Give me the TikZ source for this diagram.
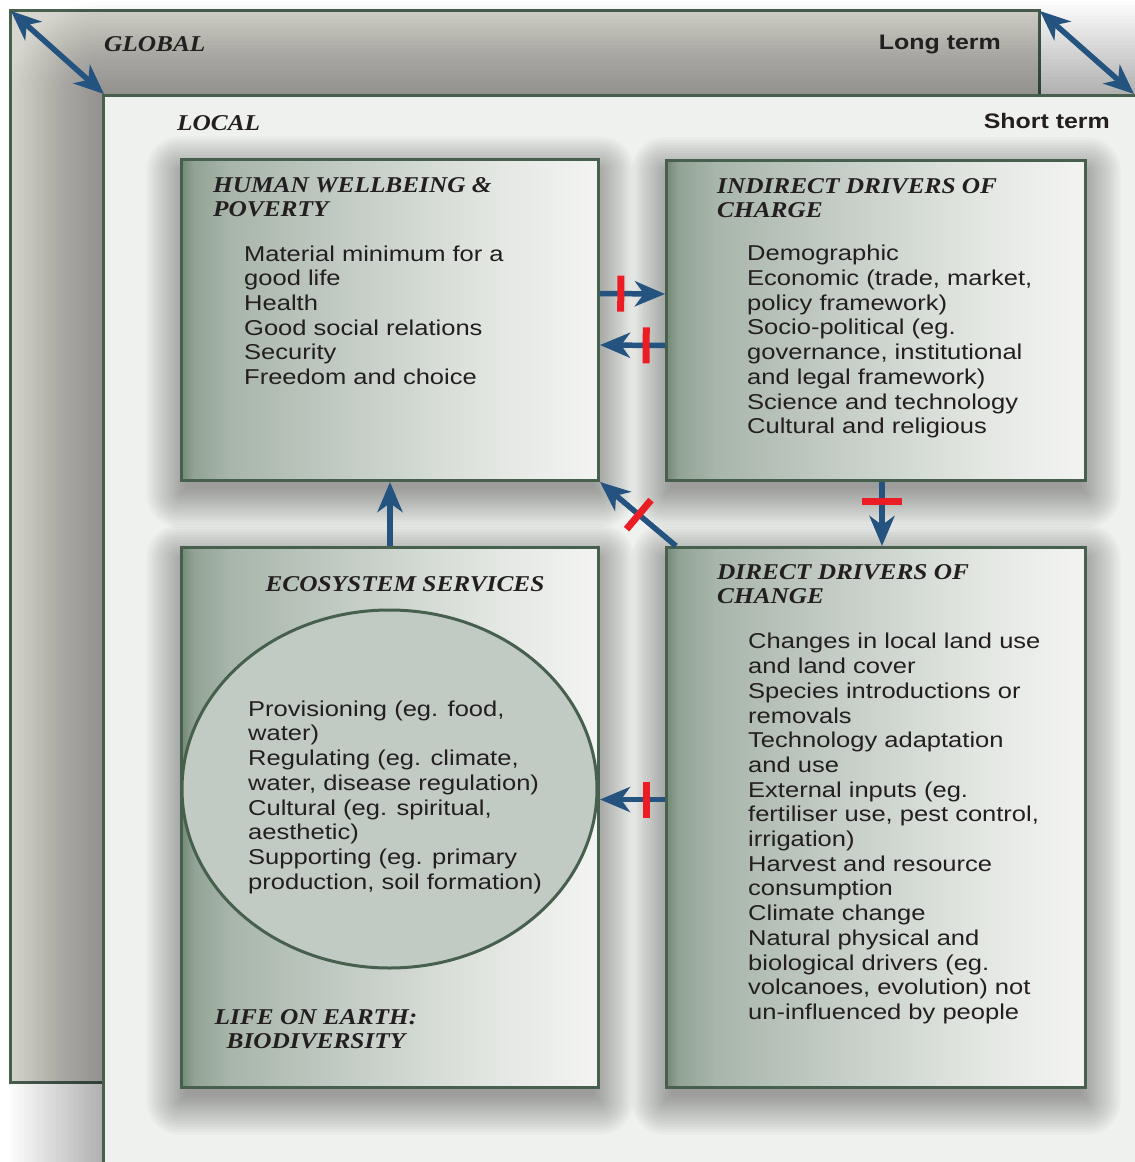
\documentclass[tikz,border=0pt]{standalone}
\usepackage{fontspec}
\setmainfont{Liberation Sans}[FakeStretch=1.187]
\newfontfamily\ttlfont{Liberation Serif}[FakeStretch=1.12]
\usetikzlibrary{arrows.meta,shapes.geometric,calc}
\definecolor{frame}{HTML}{47604E}
\definecolor{arrowblue}{HTML}{245380}
\definecolor{barred}{HTML}{EC1C24}
\definecolor{localbg}{HTML}{EFF1EE}
\definecolor{globalbg}{HTML}{D6D5CE}
\definecolor{ellfill}{HTML}{C1CAC3}
\definecolor{txt}{HTML}{231F20}
\definecolor{bx0}{HTML}{738978}
\definecolor{bx1}{HTML}{92A395}
\definecolor{bx2}{HTML}{A9B6AB}
\definecolor{bx3}{HTML}{C3CCC5}
\definecolor{bx4}{HTML}{E2E6E1}
\definecolor{bx5}{HTML}{F3F4F2}
\pgfdeclarehorizontalshading{boxshade}{100bp}{color(0bp)=(bx0); color(25bp)=(bx0); color(26.5bp)=(bx1); color(31bp)=(bx2); color(45bp)=(bx3); color(62bp)=(bx4); color(75bp)=(bx5); color(100bp)=(bx5)}
\pgfdeclarelayer{bg}
\pgfdeclarelayer{shadowlayer}
\pgfsetlayers{bg,shadowlayer,main}
\newcommand\mysoftshadow[6]{% #1 node, #2 layers, #3 step, #4 start, #5 opacity, #6 yoffset
  \foreach \k in {1,...,#2}{%
    \pgfmathsetmacro\dd{#4+\k*#3}%
    \pgfmathsetmacro\rr{max(\dd,0.1)}%
    \fill[black, fill opacity=#5, rounded corners=\rr pt] ($(#1.north west)+(-\dd,-\dd+#6)$) rectangle ($(#1.south east)+(\dd,\dd+#6)$);
  }}
\tikzset{
  boxn/.style={draw=frame, line width=3pt, shade, shading=boxshade, anchor=north west, inner sep=0pt},
  bodytext/.style={font=\fontsize{21.5pt}{24.7pt}\selectfont, align=left, inner sep=0pt, anchor=north west, text=txt},
  ttltext/.style={font=\ttlfont\bfseries\itshape\fontsize{22.6pt}{24pt}\selectfont, align=left, inner sep=0pt, anchor=north west, text=txt},
  termtext/.style={font=\bfseries\fontsize{21pt}{24pt}\selectfont, inner sep=0pt, anchor=base east, text=txt},
  flow/.style={draw=arrowblue, line width=5.5pt, -{Stealth[length=30pt, width=25pt, inset=9pt]}},
  twoway/.style={draw=arrowblue, line width=5.5pt, {Stealth[length=30pt, width=25pt, inset=9pt]}-{Stealth[length=30pt, width=25pt, inset=9pt]}},
  redbar/.style={fill=barred, draw=none, minimum width=7pt, minimum height=36pt, inner sep=0pt, sloped},
}
\begin{document}
\begin{tikzpicture}[x=1pt,y=-1pt]
\useasboundingbox (0,0) rectangle (1135,1162);
\begin{pgfonlayer}{bg}
\fill[white] (0,0) rectangle (1135,1162);
% global panel
\fill[globalbg] (10,10) rectangle (1039,1082);
\draw[frame, line width=3pt] (10,10) rectangle (1039,1082);
% local panel and its shadow
\path (103,95) coordinate (lp-north west) (1180,1200) coordinate (lp-south east);
\foreach \k in {1,...,26}{%
  \pgfmathsetmacro\dd{\k*3.6}%
  \fill[black, fill opacity=0.013, rounded corners=\dd pt] ($(lp-north west)+(-\dd,-\dd)$) rectangle ($(lp-south east)+(\dd,\dd)$);
}
\fill[localbg] (lp-north west) rectangle (lp-south east);
\draw[frame, line width=3pt] (103,1200) -- (lp-north west) -- (1180,95);
\end{pgfonlayer}
% corner coordinates and arrows
\coordinate (gnw) at (11,11);
\coordinate (lnw) at (104,94);
\coordinate (gne) at (1040,11);
\coordinate (lne) at (1134,94);
\draw[twoway] (gnw) -- (lnw);
\draw[twoway] (gne) -- (lne);
% panel labels
\node[font=\ttlfont\bfseries\itshape\fontsize{22.6pt}{24pt}\selectfont, text=txt, inner sep=0pt, anchor=base west] (global) at (104,51.7) {GLOBAL};
\node[font=\ttlfont\bfseries\itshape\fontsize{22.6pt}{24pt}\selectfont, text=txt, inner sep=0pt, anchor=base west] (local) at (177,130) {LOCAL};
\node[termtext] (long) at (1001,49.5) {Long term};
\node[termtext] (short) at (1110,128.3) {Short term};
% boxes
\node[boxn, minimum width=417pt, minimum height=321pt] (hw) at (180,158) {};
\node[boxn, minimum width=419pt, minimum height=320pt] (ind) at (665,159) {};
\node[boxn, minimum width=417pt, minimum height=540pt] (es) at (180,546) {};
\node[boxn, minimum width=419pt, minimum height=540pt] (dir) at (665,546) {};
\begin{pgfonlayer}{shadowlayer}
\mysoftshadow{hw}{16}{2.6}{-8}{0.022}{12}
\mysoftshadow{ind}{16}{2.6}{-8}{0.022}{12}
\mysoftshadow{es}{16}{2.6}{-8}{0.022}{12}
\mysoftshadow{dir}{16}{2.6}{-8}{0.022}{12}
\end{pgfonlayer}
\node[ellipse, draw=frame, line width=3pt, fill=ellfill, minimum width=415pt, minimum height=358pt, inner sep=0pt] (ell) at (389.5,789) {};
% texts
\node[ttltext] (hwt) at (213,175.2) {\strut HUMAN WELLBEING \&\\POVERTY};
\node[bodytext] (hwb) at (244,243.7) {\strut Material minimum for a\\good life\\Health\\Good social relations\\Security\\Freedom and choice};
\node[ttltext] (indt) at (717,176.2) {\strut INDIRECT DRIVERS OF\\CHARGE};
\node[bodytext] (indb) at (747,243.4) {\strut Demographic\\Economic (trade, market,\\policy framework)\\Socio-political (eg.\\governance, institutional\\and legal framework)\\Science and technology\\Cultural and religious};
\node[ttltext] (dirt) at (717,562.5) {\strut DIRECT DRIVERS OF\\CHANGE};
\node[bodytext] (dirb) at (748,631.4) {\strut Changes in local land use\\and land cover\\Species introductions or\\removals\\Technology adaptation\\and use\\External inputs (eg.\\fertiliser use, pest control,\\irrigation)\\Harvest and resource\\consumption\\Climate change\\Natural physical and\\biological drivers (eg.\\volcanoes, evolution) not\\un-influenced by people};
\node[font=\ttlfont\bfseries\itshape\fontsize{22.6pt}{24pt}\selectfont, text=txt, inner sep=0pt, anchor=base] (est) at (405,591.7) {ECOSYSTEM SERVICES};
\node[bodytext] (esb) at (248,698.7) {\strut Provisioning (eg. food,\\water)\\Regulating (eg. climate,\\water, disease regulation)\\Cultural (eg. spiritual,\\aesthetic)\\Supporting (eg. primary\\production, soil formation)};
\node[ttltext, align=center, anchor=north] (life) at (316,1007.2) {\strut LIFE ON EARTH:\\BIODIVERSITY};
% connectors
\draw[flow] ([yshift=26.5pt]hw.east) -- node[redbar, pos=0.32] (b1) {} ([yshift=26.5pt]ind.west);
\draw[flow] ([yshift=-25pt]ind.west) -- node[redbar, pos=0.29] (b2) {} ([yshift=-25pt]hw.east);
\draw[flow] (es.north) -- (hw.south);
\draw[flow] ([xshift=11pt]dir.north west) -- node[redbar, pos=0.49, minimum height=38pt] (b3) {} (hw.south east);
\draw[flow] ([xshift=6pt]ind.south) -- node[redbar, pos=0.3, minimum height=40pt] (b4) {} ([xshift=6pt]ind.south |- dir.north);
\draw[flow] ([yshift=18pt]dir.west) -- node[redbar, pos=0.28] (b5) {} ([yshift=18pt]es.east);
\end{tikzpicture}
\end{document}
